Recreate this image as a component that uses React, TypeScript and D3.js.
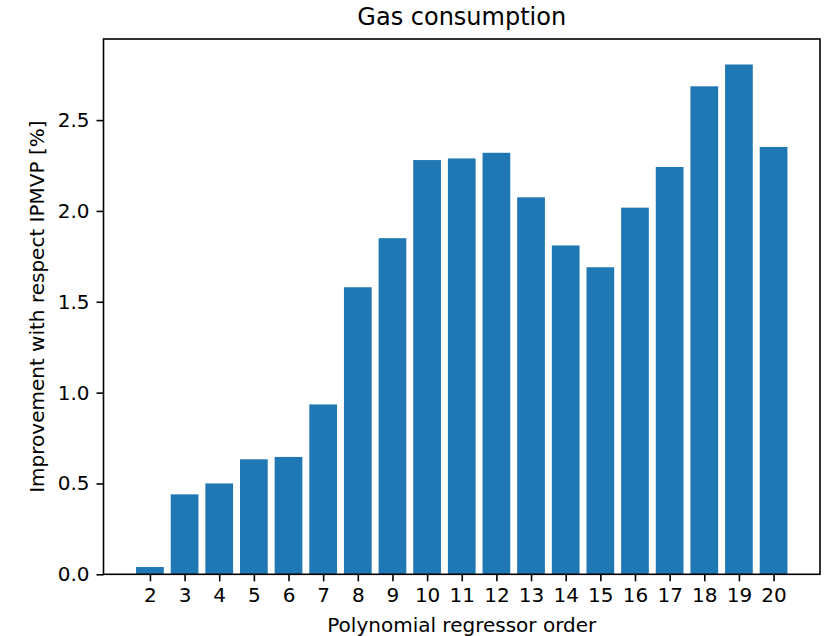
import { useRef, useEffect } from 'react';
import * as d3 from 'd3';

const orders = [2, 3, 4, 5, 6, 7, 8, 9, 10, 11, 12, 13, 14, 15, 16, 17, 18, 19, 20];
const improvement = [
  0.04, 0.44, 0.5, 0.633, 0.646, 0.935, 1.58, 1.85, 2.28, 2.289, 2.32, 2.075, 1.81, 1.69,
  2.018, 2.242, 2.686, 2.806, 2.352,
];
const yTicks = [0, 0.5, 1.0, 1.5, 2.0, 2.5];

function App() {
  const svgRef = useRef<SVGSVGElement | null>(null);
  const width = 833;
  const height = 636;

  useEffect(() => {
    const margin = { top: 39, right: 13, bottom: 61.7, left: 103.5 };
    const svg = d3.select(svgRef.current);
    svg.selectAll('*').remove();

    const font = "'DejaVu Sans', sans-serif";
    const data = orders.map((o, i) => ({ order: o, value: improvement[i] }));

    // matplotlib style: bar width 0.8, 5% margins
    const xMin = d3.min(orders)! - 0.4;
    const xMax = d3.max(orders)! + 0.4;
    const pad = (xMax - xMin) * 0.05;
    const xScale = d3
      .scaleLinear()
      .domain([xMin - pad, xMax + pad])
      .range([margin.left, width - margin.right]);

    const yScale = d3
      .scaleLinear()
      .domain([0, d3.max(improvement)! * 1.05])
      .range([height - margin.bottom, margin.top]);

    // bars
    svg
      .selectAll('.bar')
      .data(data)
      .join('rect')
      .attr('class', 'bar')
      .attr('x', (d) => xScale(d.order - 0.4))
      .attr('y', (d) => yScale(d.value))
      .attr('width', xScale(0.8) - xScale(0))
      .attr('height', (d) => yScale(0) - yScale(d.value))
      .attr('fill', '#1f77b4');

    // axes
    const xAxis = svg
      .append('g')
      .attr('transform', `translate(0,${height - margin.bottom})`)
      .call(d3.axisBottom(xScale).tickValues(orders).tickFormat(d3.format('d')).tickSize(7).tickPadding(7).tickSizeOuter(0));
    xAxis.select('.domain').remove();

    const yAxis = svg
      .append('g')
      .attr('transform', `translate(${margin.left},0)`)
      .call(d3.axisLeft(yScale).tickValues(yTicks).tickFormat(d3.format('.1f')).tickSize(7).tickPadding(7).tickSizeOuter(0));
    yAxis.select('.domain').remove();

    [xAxis, yAxis].forEach((g) => {
      g.selectAll('line').attr('stroke', '#000').attr('stroke-width', 1.6);
      g.selectAll('text')
        .attr('fill', '#000')
        .style('font-family', font)
        .style('font-size', '20px');
    });

    // frame
    svg
      .append('rect')
      .attr('x', margin.left)
      .attr('y', margin.top)
      .attr('width', width - margin.left - margin.right)
      .attr('height', height - margin.top - margin.bottom)
      .attr('fill', 'none')
      .attr('stroke', '#000')
      .attr('stroke-width', 1.6);

    // title and labels
    svg
      .append('text')
      .attr('x', (margin.left + width - margin.right) / 2)
      .attr('y', 25)
      .attr('text-anchor', 'middle')
      .style('font-family', font)
      .style('font-size', '24px')
      .text('Gas consumption');

    svg
      .append('text')
      .attr('x', (margin.left + width - margin.right) / 2)
      .attr('y', 631.5)
      .attr('text-anchor', 'middle')
      .style('font-family', font)
      .style('font-size', '20px')
      .text('Polynomial regressor order');

    svg
      .append('text')
      .attr('transform', `translate(43.5,${(margin.top + height - margin.bottom) / 2}) rotate(-90)`)
      .attr('text-anchor', 'middle')
      .style('font-family', font)
      .style('font-size', '20px')
      .text('Improvement with respect IPMVP [%]');
  }, []);

  return (
    <svg
      ref={svgRef}
      width={width}
      height={height}
      style={{ position: 'absolute', left: 0, top: 0, background: '#fff' }}
    ></svg>
  );
}

export default App;
